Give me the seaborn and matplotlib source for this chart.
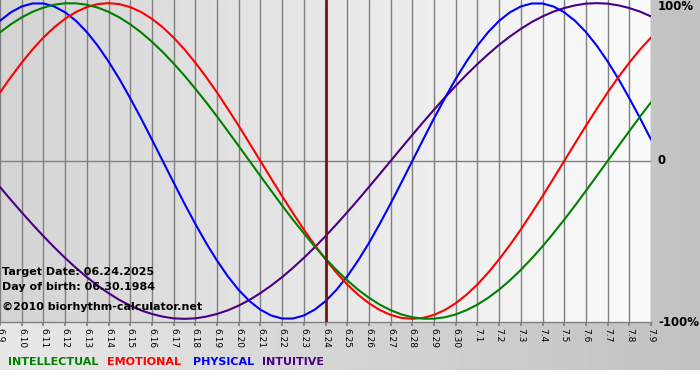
import numpy as np
import pandas as pd
import matplotlib
matplotlib.use("Agg")
import matplotlib.pyplot as plt
from matplotlib.colors import LinearSegmentedColormap
import seaborn as sns

# Datos: etiquetas de 6.9 a 7.9, valores cada medio dia
dates = ["6.9", "6.10", "6.11", "6.12", "6.13", "6.14", "6.15", "6.16", "6.17", "6.18",
         "6.19", "6.20", "6.21", "6.22", "6.23", "6.24", "6.25", "6.26", "6.27", "6.28",
         "6.29", "6.30", "7.1", "7.2", "7.3", "7.4", "7.5", "7.6", "7.7", "7.8", "7.9"]
physical = [0.888, 0.942, 0.979, 0.998, 0.998, 0.979, 0.942, 0.888, 0.817, 0.731,
            0.631, 0.520, 0.398, 0.270, 0.136, 0.000, -0.136, -0.270, -0.398, -0.520,
            -0.631, -0.731, -0.817, -0.888, -0.942, -0.979, -0.998, -0.998, -0.979, -0.942,
            -0.888, -0.817, -0.731, -0.631, -0.520, -0.398, -0.270, -0.136, 0.000, 0.136,
            0.270, 0.398, 0.520, 0.631, 0.731, 0.817, 0.888, 0.942, 0.979, 0.998,
            0.998, 0.979, 0.942, 0.888, 0.817, 0.731, 0.631, 0.520, 0.398, 0.270, 0.136]
emotional = [0.434, 0.532, 0.623, 0.707, 0.782, 0.847, 0.901, 0.944, 0.975, 0.994,
             1.000, 0.994, 0.975, 0.944, 0.901, 0.847, 0.782, 0.707, 0.623, 0.532,
             0.434, 0.330, 0.223, 0.112, 0.000, -0.112, -0.223, -0.330, -0.434, -0.532,
             -0.623, -0.707, -0.782, -0.847, -0.901, -0.944, -0.975, -0.994, -1.000, -0.994,
             -0.975, -0.944, -0.901, -0.847, -0.782, -0.707, -0.623, -0.532, -0.434, -0.330,
             -0.223, -0.112, 0.000, 0.112, 0.223, 0.330, 0.434, 0.532, 0.623, 0.707, 0.782]
intellectual = [0.815, 0.866, 0.910, 0.945, 0.972, 0.990, 0.999, 0.999, 0.990, 0.972,
                0.945, 0.910, 0.866, 0.815, 0.756, 0.690, 0.618, 0.541, 0.458, 0.372,
                0.282, 0.189, 0.095, 0.000, -0.095, -0.189, -0.282, -0.372, -0.458, -0.541,
                -0.618, -0.690, -0.756, -0.815, -0.866, -0.910, -0.945, -0.972, -0.990, -0.999,
                -0.999, -0.990, -0.972, -0.945, -0.910, -0.866, -0.815, -0.756, -0.690, -0.618,
                -0.541, -0.458, -0.372, -0.282, -0.189, -0.095, 0.000, 0.095, 0.189, 0.282, 0.372]
intuitive = [-0.165, -0.246, -0.325, -0.402, -0.476, -0.547, -0.614, -0.677, -0.736, -0.789,
             -0.837, -0.880, -0.916, -0.946, -0.969, -0.986, -0.997, -1.000, -0.997, -0.986,
             -0.969, -0.946, -0.916, -0.880, -0.837, -0.789, -0.736, -0.677, -0.614, -0.547,
             -0.476, -0.402, -0.325, -0.246, -0.165, -0.083, 0.000, 0.083, 0.165, 0.246,
             0.325, 0.402, 0.476, 0.547, 0.614, 0.677, 0.736, 0.789, 0.837, 0.880,
             0.916, 0.946, 0.969, 0.986, 0.997, 1.000, 0.997, 0.986, 0.969, 0.946, 0.916]
target_date = "6.24"

colores = {"INTUITIVE": "#4b0082", "PHYSICAL": "#0000ff",
           "EMOTIONAL": "#ff0000", "INTELLECTUAL": "#008000"}

# posicion en dias (medio dia por muestra)
dia = np.arange(len(physical)) * 0.5

df = pd.concat([
    pd.DataFrame({"day": dia, "value": intuitive, "cycle": "INTUITIVE"}),
    pd.DataFrame({"day": dia, "value": physical, "cycle": "PHYSICAL"}),
    pd.DataFrame({"day": dia, "value": emotional, "cycle": "EMOTIONAL"}),
    pd.DataFrame({"day": dia, "value": intellectual, "cycle": "INTELLECTUAL"}),
])

sns.set_theme(style="white")
plt.rcParams['font.family'] = ['DejaVu Sans']
plt.rcParams['text.color'] = 'black'
plt.rcParams['xtick.labelcolor'] = 'black'

W, H = 700, 380
fig = plt.figure(figsize=(7, 3.8), dpi=100)
fig.patch.set_facecolor("white")

# fondo gris exterior
bg = fig.add_axes([0, 10 / H, 1, 370 / H])
bg.imshow(np.linspace(0, 1, 256).reshape(1, -1), aspect="auto", extent=[0, 1, 0, 1],
          cmap=LinearSegmentedColormap.from_list("bg", ["#e8e8e8", "#c2c2c2"]))
bg.axis("off")

ax = fig.add_axes([0, 1 - 322 / H, 651 / W, 322 / H])
n = len(dates) - 1
ax.imshow(np.linspace(0, 1, 256).reshape(1, -1), aspect="auto",
          extent=[0, n, -1.02, 1.02], zorder=0,
          cmap=LinearSegmentedColormap.from_list("pl", ["#d4d4d4", "#e8e8e8", "#fbfbfb"]))

ax.axhline(0, color="#808080", lw=1, zorder=1)
for i in range(len(dates)):
    ax.axvline(i, color="#808080", lw=1, zorder=1)

sns.lineplot(data=df, x="day", y="value", hue="cycle", palette=colores,
             linewidth=1.5, legend=False, ax=ax, zorder=3)

ax.axvline(dates.index(target_date), color="#7a1212", lw=2, zorder=4)

ax.set_xlim(0, n)
ax.set_ylim(-1.02, 1.02)
ax.set_xticks(range(len(dates)))
ax.set_xticklabels(dates, rotation=-90, fontsize=6.5, color="black")
ax.set_yticks([])
ax.set_xlabel("")
ax.set_ylabel("")
ax.tick_params(axis="x", length=3, color="#808080", pad=1, bottom=True)
for s in ["top", "left", "right"]:
    ax.spines[s].set_visible(False)
ax.spines["bottom"].set_color("#808080")
ax.spines["bottom"].set_linewidth(1)

def txt(x, y, s, **kw):
    kw.setdefault("color", "black")
    fig.text(x / W, 1 - y / H, s, va="center", fontweight="bold", **kw)

txt(658, 7, "100%", fontsize=8.5)
txt(658, 161, "0", fontsize=8.5)
txt(658, 322, "-100%", fontsize=8.5)

txt(2, 272, "Target Date: 06.24.2025", fontsize=8)
txt(2, 287, "Day of birth: 06.30.1984", fontsize=8)
txt(2, 307, "\u00a92010 biorhythm-calculator.net", fontsize=8)

txt(8, 362, "INTELLECTUAL", fontsize=8, color=colores["INTELLECTUAL"])
txt(107, 362, "EMOTIONAL", fontsize=8, color=colores["EMOTIONAL"])
txt(193, 362, "PHYSICAL", fontsize=8, color=colores["PHYSICAL"])
txt(262, 362, "INTUITIVE", fontsize=8, color=colores["INTUITIVE"])

fig.savefig("out.png", dpi=100)
